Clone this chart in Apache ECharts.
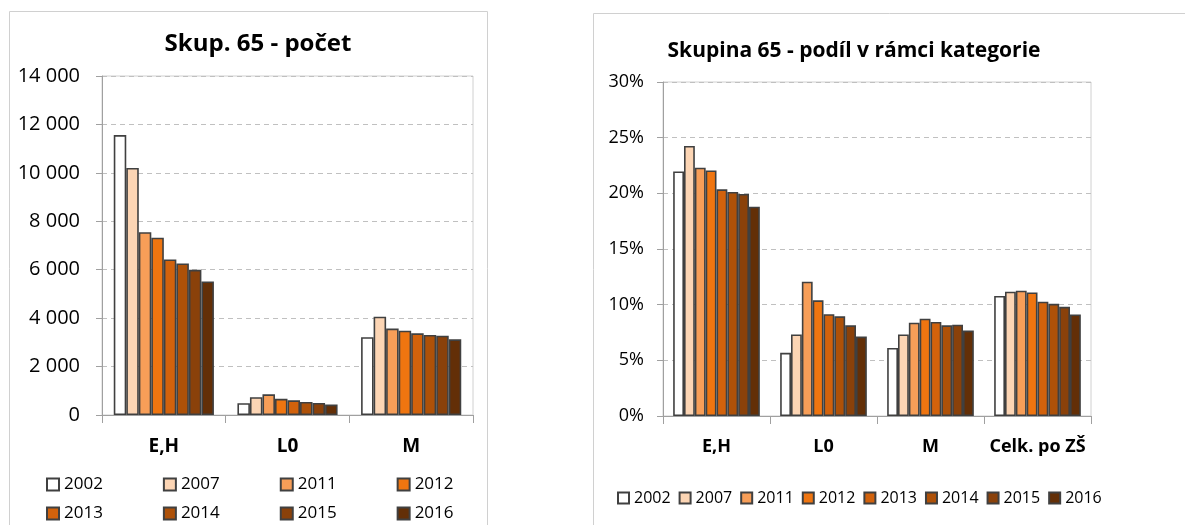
<!DOCTYPE html>
<html>
<head>
<meta charset="utf-8">
<script src="https://cdn.jsdelivr.net/npm/echarts@6/dist/echarts.min.js"></script>
<style>
html,body{margin:0;padding:0;background:#fff;}
#chart{width:1185px;height:525px;}
</style>
</head>
<body>
<div id="chart"></div>
<script>
const years = ['2002','2007','2011','2012','2013','2014','2015','2016'];
const colors = ['#FFFFFF','#FCD5B4','#F79E58','#EF7510','#D2620C','#AE5108','#8A410A','#632F07'];

const countCategories = ['E,H','L0','M'];
const countEH = [11560, 10205, 7550, 7325, 6425, 6260, 5995, 5515];
const countL0 = [487, 736, 855, 666, 605, 542, 500, 432];
const countM  = [3210, 4060, 3570, 3482, 3372, 3305, 3276, 3124];
const countTicks = [0, 2000, 4000, 6000, 8000, 10000, 12000, 14000];

const shareCategories = ['E,H','L0','M','Celk. po ZŠ'];
const shareEH   = [21.97, 24.25, 22.3, 22.06, 20.36, 20.12, 19.94, 18.8];
const shareL0   = [5.67, 7.32, 12.06, 10.39, 9.15, 8.95, 8.14, 7.13];
const shareM    = [6.11, 7.33, 8.38, 8.74, 8.45, 8.14, 8.2, 7.67];
const shareCelk = [10.78, 11.17, 11.25, 11.1, 10.26, 10.08, 9.81, 9.12];
const shareTicks = [0, 5, 10, 15, 20, 25, 30];

const FONT = 'Open Sans';
const chart = echarts.init(document.getElementById('chart'));

const barStyle = (i) => ({ color: colors[i], borderColor: '#404040', borderWidth: 1.6 });

const series = [];
years.forEach((y, i) => {
  series.push({
    name: y, type: 'bar', xAxisIndex: 0, yAxisIndex: 0,
    barGap: '0%', barCategoryGap: '19%',
    itemStyle: barStyle(i),
    emphasis: { disabled: true },
    data: [countEH[i], countL0[i], countM[i]]
  });
});
years.forEach((y, i) => {
  series.push({
    name: y, type: 'bar', xAxisIndex: 1, yAxisIndex: 1,
    barGap: '0%', barCategoryGap: '19%',
    itemStyle: barStyle(i),
    emphasis: { disabled: true },
    data: [shareEH[i], shareL0[i], shareM[i], shareCelk[i]]
  });
});

const splitLine = { show: true, lineStyle: { color: '#C0C0C0', type: [5, 4], width: 1 } };
const axisLine = { show: true, lineStyle: { color: '#A0A0A0', width: 1 } };

const legendCommon = {
  icon: 'rect', orient: 'horizontal',
  selectedMode: false, padding: 0
};

chart.setOption({
  animation: false,
  textStyle: { fontFamily: FONT },
  graphic: [
    { type: 'rect', shape: { x: 9.5, y: 11.5, width: 478, height: 530 }, style: { fill: 'none', stroke: '#D0D0D0', lineWidth: 1 }, silent: true },
    { type: 'rect', shape: { x: 593.5, y: 13.5, width: 620, height: 530 }, style: { fill: 'none', stroke: '#D0D0D0', lineWidth: 1 }, silent: true }
  ],
  title: [
    { text: 'Skup. 65 - počet', left: 253, top: 27, textAlign: 'center',
      textStyle: { fontFamily: FONT, fontWeight: 'bold', fontSize: 24, color: '#000' } },
    { text: 'Skupina 65 - podíl v rámci kategorie', left: 849, top: 36, textAlign: 'center',
      textStyle: { fontFamily: FONT, fontWeight: 'bold', fontSize: 21, color: '#000' } }
  ],
  legend: [
    Object.assign({}, legendCommon, {
      data: years.slice(0, 4), left: 46, top: 476, itemWidth: 12, itemHeight: 12, itemGap: 60,
      textStyle: { fontFamily: FONT, fontSize: 17, color: '#000' }
    }),
    Object.assign({}, legendCommon, {
      data: years.slice(4), left: 46, top: 505, itemWidth: 12, itemHeight: 12, itemGap: 60,
      textStyle: { fontFamily: FONT, fontSize: 17, color: '#000' }
    }),
    Object.assign({}, legendCommon, {
      data: years, left: 617, top: 490, itemWidth: 11, itemHeight: 11, itemGap: 8,
      textStyle: { fontFamily: FONT, fontSize: 16, color: '#000' }
    })
  ],
  grid: [
    { left: 102, right: 712, top: 76, bottom: 110, show: true, borderColor: '#D0D0D0', borderWidth: 1, backgroundColor: 'transparent' },
    { left: 663, right: 94, top: 82, bottom: 109, show: true, borderColor: '#D0D0D0', borderWidth: 1, backgroundColor: 'transparent' }
  ],
  xAxis: [
    { type: 'category', gridIndex: 0, data: countCategories,
      axisLine: axisLine,
      axisTick: { show: true, length: 8, alignWithLabel: false, lineStyle: { color: '#A0A0A0' } },
      axisLabel: { fontFamily: FONT, fontWeight: 'bold', fontSize: 19, color: '#000', margin: 22 },
      splitLine: { show: false } },
    { type: 'category', gridIndex: 1, data: shareCategories,
      axisLine: axisLine,
      axisTick: { show: true, length: 8, alignWithLabel: false, lineStyle: { color: '#A0A0A0' } },
      axisLabel: { fontFamily: FONT, fontWeight: 'bold', fontSize: 18, color: '#000', margin: 22, interval: 0 },
      splitLine: { show: false } }
  ],
  yAxis: [
    { type: 'value', gridIndex: 0, min: countTicks[0], max: countTicks[countTicks.length - 1], interval: 2000,
      axisLine: axisLine,
      axisTick: { show: true, length: 6, inside: false, lineStyle: { color: '#A0A0A0' } },
      axisLabel: { fontFamily: FONT, fontSize: 20, color: '#000', margin: 22,
        formatter: v => v === 0 ? '0' : String(v).replace(/\B(?=(\d{3})+(?!\d))/g, ' ') },
      splitLine: splitLine },
    { type: 'value', gridIndex: 1, min: shareTicks[0], max: shareTicks[shareTicks.length - 1], interval: 5,
      axisLine: axisLine,
      axisTick: { show: true, length: 6, inside: false, lineStyle: { color: '#A0A0A0' } },
      axisLabel: { fontFamily: FONT, fontSize: 18, color: '#000', margin: 19, formatter: v => v + '%' },
      splitLine: splitLine }
  ],
  series: series
});
</script>
</body>
</html>
